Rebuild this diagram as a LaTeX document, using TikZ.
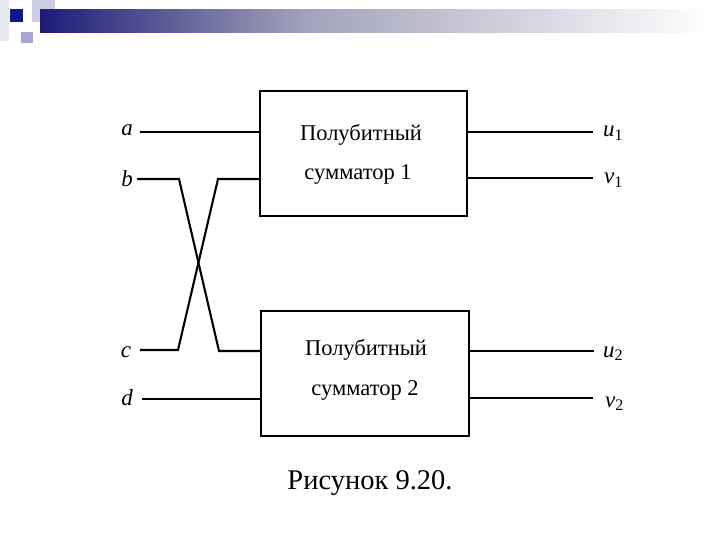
\documentclass[tikz,border=0pt]{standalone}
\usepackage{fontspec}
\setmainfont{Liberation Serif}
\begin{document}
\begin{tikzpicture}[x=1pt,y=-1pt,
  wire/.style={line width=2.1pt,line join=miter},
  blockbox/.style={draw,line width=2.1pt,minimum width=207pt,minimum height=125pt,inner sep=0pt},
  boxtext/.style={font=\fontsize{22.5}{26}\selectfont,inner sep=0pt,anchor=base},
  pin/.style={font=\fontsize{23}{26}\selectfont\itshape,inner sep=0pt,anchor=base},
  caption/.style={font=\fontsize{28.5}{32}\selectfont,inner sep=0pt,anchor=base}]
\useasboundingbox (0,0) rectangle (720,540);
% decoration
\fill[fill={rgb,255:red,232;green,232;blue,242}] (0,0) rectangle (9,41);
\fill[fill={rgb,255:red,205;green,205;blue,228}] (32,0) rectangle (55,22);
\shade[left color={rgb,255:red,28;green,28;blue,120},right color={rgb,255:red,160;green,160;blue,185}] (40,10) rectangle (300,33);
\shade[left color={rgb,255:red,160;green,160;blue,185},right color=white] (299.5,10) rectangle (710,33);
\fill[fill={rgb,255:red,20;green,20;blue,140}] (10,9) rectangle (23,22);
\fill[fill={rgb,255:red,165;green,165;blue,210}] (21,32) rectangle (33,43);
% boxes
\node[blockbox] (box1) at (363.5,153.5) {};
\node[blockbox,minimum width=208pt] (box2) at (365,373.5) {};
\node[boxtext] (t1a) at (361,141) {Полубитный};
\node[boxtext] (t1b) at (358,180) {сумматор 1};
\node[boxtext] (t2a) at (366,355) {Полубитный};
\node[boxtext] (t2b) at (365,395) {сумматор 2};
% input labels
\node[pin] (la) at (127,136) {a};
\node[pin] (lb) at (127,187) {b};
\node[pin] (lc) at (126,357) {c};
\node[pin] (ld) at (127,405) {d};
% input wires
\coordinate (a0) at (140,132);
\coordinate (b0) at (137,179);
\coordinate (c0) at (140,350);
\coordinate (d0) at (142,399);
\coordinate (bk1) at (179,179);
\coordinate (bk2) at (219,351);
\coordinate (ck1) at (178,350);
\coordinate (ck2) at (218,179);
\draw[wire] (a0) -- (a0 -| box1.west);
\draw[wire] (b0) -- (bk1) -- (bk2) -- (bk2 -| box2.west);
\draw[wire] (c0) -- (ck1) -- (ck2) -- (ck2 -| box1.west);
\draw[wire] (d0) -- (d0 -| box2.west);
% outputs
\coordinate (u1e) at (593,132);
\coordinate (v1e) at (593,178);
\coordinate (u2e) at (594,351);
\coordinate (v2e) at (593,398);
\draw[wire] (u1e -| box1.east) -- (u1e);
\draw[wire] (v1e -| box1.east) -- (v1e);
\draw[wire] (u2e -| box2.east) -- (u2e);
\draw[wire] (v2e -| box2.east) -- (v2e);
\node[pin,anchor=base west] (lu1) at (603,137) {u\textsubscript{\upshape 1}};
\node[pin,anchor=base west] (lv1) at (604,184) {v\textsubscript{\upshape 1}};
\node[pin,anchor=base west] (lu2) at (603,357) {u\textsubscript{\upshape 2}};
\node[pin,anchor=base west] (lv2) at (605,407) {v\textsubscript{\upshape 2}};
% caption
\node[caption] (cap) at (370,489) {Рисунок 9.20.};
\end{tikzpicture}
\end{document}
